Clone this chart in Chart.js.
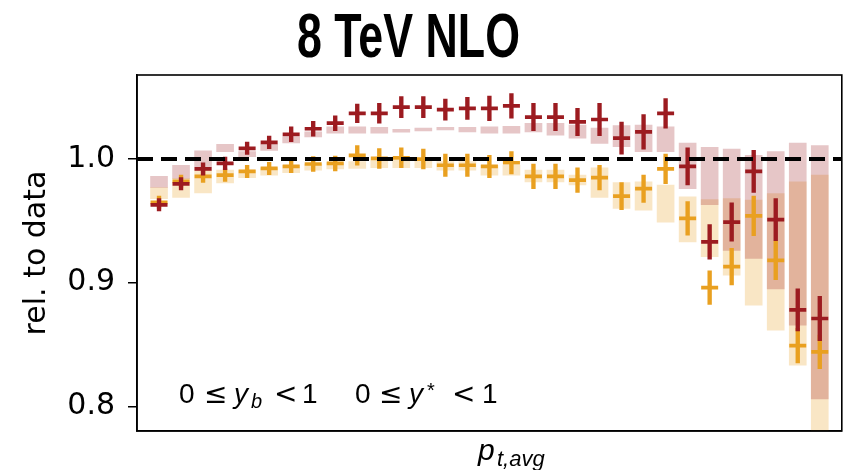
<!DOCTYPE html>
<html>
<head>
<meta charset="utf-8">
<title>8 TeV NLO</title>
<script src="https://cdn.jsdelivr.net/npm/chart.js@4.4.1/dist/chart.umd.min.js"></script>
<style>
  html, body { margin: 0; padding: 0; background: #fff; }
  #chart { display: block; }
</style>
</head>
<body>
<canvas id="chart" width="854" height="470"></canvas>
<script>
// p_t,avg bins, drawn evenly spaced (no tick labels on the x axis)
const bins = [0, 1, 2, 3, 4, 5, 6, 7, 8, 9, 10, 11, 12, 13, 14, 15, 16, 17, 18, 19, 20,
              21, 22, 23, 24, 25, 26, 27, 28, 29, 30];
const xLimits = [-1, 31];
const yLimits = [0.78, 1.068];
const yTicks = [0.8, 0.9, 1.0];
const refLine = 1.0;

// Dark red series: ratio to data and its error
const redVal = [0.963, 0.980, 0.992, 0.9965, 1.0087, 1.0135, 1.020, 1.0245, 1.029, 1.037, 1.037,
                1.042, 1.042, 1.040, 1.041, 1.041, 1.043, 1.034, 1.034, 1.030, 1.032,
                1.017, 1.022, 1.037, 0.994, 0.933, 0.949, 0.990, 0.951, 0.878, 0.871];
const redErr = [0.005, 0.005, 0.005, 0.005, 0.005, 0.005, 0.006, 0.006, 0.006, 0.0075, 0.008,
                0.0085, 0.0085, 0.0085, 0.009, 0.010, 0.010, 0.011, 0.011, 0.011, 0.013,
                0.013, 0.014, 0.012, 0.015, 0.014, 0.0155, 0.017, 0.017, 0.017, 0.018];

// Orange series: ratio to data and its error
const orangeVal = [0.965, 0.982, 0.986, 0.987, 0.990, 0.9924, 0.994, 0.996, 0.9965, 1.003, 1.0005,
                   1.001, 1.000, 0.995, 0.995, 0.994, 0.997, 0.986, 0.986, 0.983, 0.985,
                   0.970, 0.976, 0.992, 0.952, 0.896, 0.913, 0.954, 0.918, 0.849, 0.844];
const orangeErr = [0.005, 0.005, 0.005, 0.005, 0.005, 0.005, 0.005, 0.006, 0.006, 0.008, 0.008,
                   0.008, 0.008, 0.009, 0.009, 0.009, 0.009, 0.010, 0.010, 0.010, 0.010,
                   0.011, 0.011, 0.012, 0.0135, 0.0135, 0.0148, 0.016, 0.0155, 0.014, 0.0135];

// Uncertainty bands (lower / upper edge)
const redBandLo = [0.977, 0.9844, 0.991, 1.006, 1.002, 1.007, 1.013, 1.018, 1.021, 1.021, 1.021,
                   1.0217, 1.0227, 1.0235, 1.022, 1.021, 1.021, 1.022, 1.0194, 1.0168, 1.0127,
                   1.010, 1.006, 1.006, 0.976, 0.963, 0.926, 0.9196, 0.895, 0.8656, 0.806];
const redBandHi = [0.986, 0.995, 1.0067, 1.012, 1.006, 1.012, 1.018, 1.022, 1.026, 1.026, 1.0257,
                   1.024, 1.025, 1.0257, 1.0257, 1.026, 1.0265, 1.029, 1.029, 1.0275, 1.025,
                   1.027, 1.0275, 1.026, 1.013, 1.0095, 1.008, 1.003, 1.006, 1.013, 1.011];
const orangeBandLo = [0.968, 0.969, 0.9727, 0.9806, 0.985, 0.987, 0.989, 0.991, 0.992, 0.9925, 0.993,
                      0.993, 0.993, 0.991, 0.991, 0.987, 0.987, 0.9816, 0.9816, 0.979, 0.969,
                      0.960, 0.9587, 0.949, 0.933, 0.921, 0.906, 0.8818, 0.8615, 0.8332, 0.76];
const orangeBandHi = [0.977, 0.9844, 0.991, 0.991, 0.991, 0.993, 0.995, 0.996, 0.997, 0.998, 0.999,
                      0.999, 0.999, 0.998, 0.998, 0.995, 0.995, 0.991, 0.991, 0.987, 0.993,
                      0.981, 0.9816, 0.979, 0.9695, 0.9673, 0.968, 0.9668, 0.972, 0.9816, 0.987];

const RED = '#9c1b20';
const ORANGE = '#e9a020';
const PINK = 'rgba(156, 27, 32, 0.25)';
const CREAM = 'rgba(233, 160, 32, 0.26)';

// Build helpers
function points(vals) {
  return bins.map(i => ({ x: i, y: vals[i] }));
}
function ranges(lo, hi) {
  return bins.map(i => ({ x: i, y: [lo[i], hi[i]] }));
}
function errRanges(vals, errs) {
  return bins.map(i => ({ x: i, y: [vals[i] - errs[i], vals[i] + errs[i]] }));
}

// Cross arm (horizontal) dataset
function armSet(label, vals, color, order) {
  return {
    type: 'line',
    label: label,
    data: points(vals),
    showLine: false,
    pointStyle: 'line',
    pointRadius: 8.5,
    pointBorderWidth: 3.7,
    pointBorderColor: color,
    pointBackgroundColor: color,
    order: order
  };
}

// Vertical error / band dataset
function barSet(label, data, color, thickness, order) {
  return {
    type: 'bar',
    label: label,
    data: data,
    backgroundColor: color,
    borderWidth: 0,
    barThickness: thickness,
    grouped: false,
    order: order
  };
}

// Title, annotation, axis label and frame
const extraText = {
  id: 'extraText',
  afterDraw(chart) {
    const ctx = chart.ctx;
    const a = chart.chartArea;
    ctx.save();

    // frame
    ctx.strokeStyle = '#000';
    ctx.lineWidth = 1.6;
    ctx.strokeRect(a.left, a.top, a.right - a.left, a.bottom - a.top);

    ctx.fillStyle = '#000';
    ctx.textAlign = 'left';
    ctx.textBaseline = 'alphabetic';

    // title
    const title = '8 TeV NLO';
    ctx.save();
    ctx.font = 'bold 63px "Liberation Sans Narrow", "Liberation Sans", sans-serif';
    const tw = ctx.measureText(title).width;
    ctx.translate(408.5, 57);
    ctx.scale(223 / tw, 1);
    ctx.textAlign = 'center';
    ctx.fillText(title, 0, 0);
    ctx.restore();

    // rapidity bin annotation
    const sans = '28px "Liberation Sans", sans-serif';
    const ital = 'italic 28px "Liberation Sans", sans-serif';
    const sym = '28px "DejaVu Sans", sans-serif';
    const small = 'italic 20px "Liberation Sans", sans-serif';
    const parts = [
      ['0', sans, 179, 403], ['\u2264', sym, 204, 403], ['y', ital, 234, 403], ['b', small, 251, 408],
      ['<', sym, 274, 403], ['1', sans, 302, 403],
      ['0', sans, 355, 403], ['\u2264', sym, 379, 403], ['y', ital, 409, 403], ['*', '20px "Liberation Sans", sans-serif', 427, 397],
      ['<', sym, 452, 403], ['1', sans, 482, 403]
    ];
    parts.forEach(p => {
      ctx.font = p[1];
      ctx.fillText(p[0], p[2], p[3]);
    });

    // x axis label p_{t,avg}
    ctx.font = 'italic 30px "Liberation Sans", sans-serif';
    ctx.fillText('p', 478, 460);
    ctx.font = 'italic 22px "Liberation Sans", sans-serif';
    ctx.fillText('t,avg', 497, 466);

    ctx.restore();
  }
};

const ctx = document.getElementById('chart').getContext('2d');
const chart = new Chart(ctx, {
  type: 'bar',
  data: {
    datasets: [
      {
        type: 'line',
        label: 'data',
        data: [{ x: xLimits[0], y: refLine }, { x: xLimits[1], y: refLine }],
        borderColor: '#000',
        borderWidth: 4,
        borderDash: [16, 8],
        pointRadius: 0,
        order: 0
      },
      armSet('red', redVal, RED, 1),
      barSet('red err', errRanges(redVal, redErr), RED, 3.7, 1),
      armSet('orange', orangeVal, ORANGE, 2),
      barSet('orange err', errRanges(orangeVal, orangeErr), ORANGE, 3.7, 2),
      barSet('red band', ranges(redBandLo, redBandHi), PINK, 17, 3),
      barSet('orange band', ranges(orangeBandLo, orangeBandHi), CREAM, 17, 4)
    ]
  },
  options: {
    responsive: false,
    animation: false,
    devicePixelRatio: 1,
    layout: { padding: { top: 75, left: 0, right: 8, bottom: 0 } },
    plugins: {
      legend: { display: false },
      tooltip: { enabled: false },
      title: { display: false }
    },
    scales: {
      x: {
        type: 'linear',
        min: xLimits[0],
        max: xLimits[1],
        offset: false,
        grid: { display: false },
        ticks: { display: false },
        border: { display: true, color: '#000', width: 1.6 },
        afterFit: function(scale) { scale.height = 39; }
      },
      y: {
        type: 'linear',
        min: yLimits[0],
        max: yLimits[1],
        afterBuildTicks: function(scale) {
          scale.ticks = yTicks.map(v => ({ value: v }));
        },
        afterFit: function(scale) { scale.width = 137; },
        grid: {
          drawOnChartArea: false,
          drawTicks: true,
          tickLength: 9,
          color: '#000',
          lineWidth: 1.5
        },
        border: { display: true, color: '#000', width: 1.6 },
        ticks: {
          color: '#000',
          padding: 13,
          font: { family: 'DejaVu Sans', size: 30 },
          callback: function(value) {
            return value.toFixed(1);
          }
        },
        title: {
          display: true,
          text: 'rel. to data',
          color: '#000',
          font: { family: 'DejaVu Sans', size: 30 },
          padding: { top: 19, bottom: 0 }
        }
      }
    }
  },
  plugins: [extraText]
});
</script>
</body>
</html>
